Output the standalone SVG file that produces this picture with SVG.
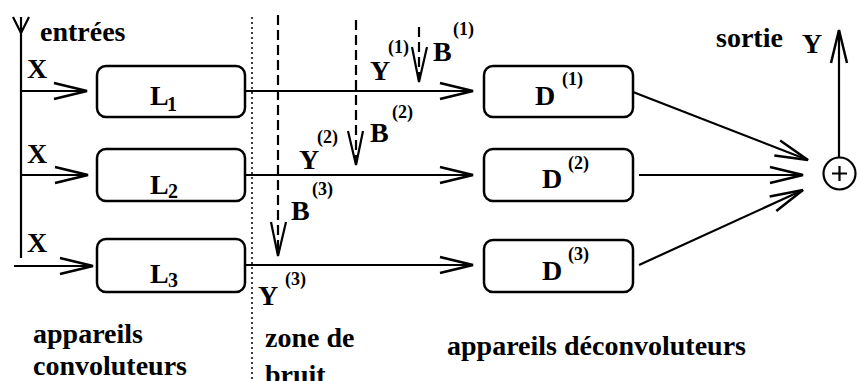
<svg xmlns="http://www.w3.org/2000/svg" width="857" height="381" viewBox="0 0 857 381" font-family="Liberation Serif, Times New Roman, serif">
<style>
text{font-weight:bold;fill:#000}
.t{font-size:28px}
.s{font-size:18px}
.sub{font-size:20px}
.box{fill:#fff;stroke:#000;stroke-width:2.5}
.ln{fill:none;stroke:#000;stroke-width:2.2}
.dash{fill:none;stroke:#000;stroke-width:2.2;stroke-dasharray:10 5}
.dot{fill:none;stroke:#000;stroke-width:1.5;stroke-dasharray:2 3}
</style>
<defs>
<marker id="ah" markerUnits="userSpaceOnUse" viewBox="-36 -10 40 20" markerWidth="40" markerHeight="20" refX="0" refY="0" orient="auto">
<path d="M-33,-8 L0,0 L-33,8" fill="none" stroke="#000" stroke-width="2.5"/>
</marker>
</defs>
<g id="connectors">
<path class="ln" d="M21,17 V258"/>
<path class="ln" d="M13,17 L21,33 L29,17"/>
<path class="ln" d="M21,91 H87" marker-end="url(#ah)"/>
<path class="ln" d="M21,175 H88" marker-end="url(#ah)"/>
<path class="ln" d="M14,266 H93" marker-end="url(#ah)"/>
<path class="dot" d="M252,17 V381"/>
<path class="ln" d="M245,91 H473" marker-end="url(#ah)"/>
<path class="ln" d="M245,175 H473" marker-end="url(#ah)"/>
<path class="ln" d="M245,265 H473" marker-end="url(#ah)"/>
<path class="dash" d="M278,15 V254"/>
<path class="ln" d="M271,222 L278,256 L286,222"/>
<path class="dash" d="M356,20 V163"/>
<path class="ln" d="M348,131 L356,165 L363,131"/>
<path class="dash" d="M419,27 V80"/>
<path class="ln" d="M412,47 L419,82 L427,47"/>
<path class="ln" d="M633,92 L808,160" marker-end="url(#ah)"/>
<path class="ln" d="M639,175 L803,175" marker-end="url(#ah)"/>
<path class="ln" d="M639,265 L803,190" marker-end="url(#ah)"/>
<path class="ln" d="M839,157 V30" marker-end="url(#ah)"/>
</g>
<g id="L1"><rect class="box" x="97" y="66" width="148" height="51" rx="9"/><text class="t" x="150" y="105">L</text><text class="sub" x="167" y="111">1</text></g>
<g id="L2"><rect class="box" x="97" y="149" width="148" height="52" rx="9"/><text class="t" x="150" y="194">L</text><text class="sub" x="168" y="198">2</text></g>
<g id="L3"><rect class="box" x="97" y="239" width="148" height="53" rx="9"/><text class="t" x="150" y="283">L</text><text class="sub" x="168" y="287">3</text></g>
<g id="D1"><rect class="box" x="484" y="66" width="149" height="51" rx="9"/><text class="t" x="535" y="105">D</text><text class="s" x="562" y="85">(1)</text></g>
<g id="D2"><rect class="box" x="484" y="149" width="149" height="52" rx="9"/><text class="t" x="542" y="188">D</text><text class="s" x="568" y="169">(2)</text></g>
<g id="D3"><rect class="box" x="484" y="240" width="149" height="52" rx="9"/><text class="t" x="542" y="280">D</text><text class="s" x="568" y="260">(3)</text></g>
<g id="sum"><circle cx="839.5" cy="173.5" r="16" fill="#fff" stroke="#000" stroke-width="2.2"/><path class="ln" d="M832,173.5 H847 M839.5,166 V181"/></g>
<g id="labels">
<text class="t" x="40" y="41">entrées</text>
<text class="t" x="27" y="78">X</text>
<text class="t" x="27" y="163">X</text>
<text class="t" x="27" y="252">X</text>
<text class="t" x="370" y="80">Y</text><text class="s" x="388" y="53">(1)</text>
<text class="t" x="433" y="61">B</text><text class="s" x="453" y="35">(1)</text>
<text class="t" x="370" y="142">B</text><text class="s" x="392" y="118">(2)</text>
<text class="t" x="299" y="169">Y</text><text class="s" x="317" y="143">(2)</text>
<text class="t" x="291" y="220">B</text><text class="s" x="312" y="195">(3)</text>
<text class="t" x="258" y="305">Y</text><text class="s" x="285" y="285">(3)</text>
<text class="t" x="716" y="47">sortie</text>
<text class="t" x="802" y="53">Y</text>
<text class="t" x="33" y="343">appareils</text>
<text class="t" x="33" y="375">convoluteurs</text>
<text class="t" x="265" y="347">zone de</text>
<text class="t" x="265" y="384">bruit</text>
<text class="t" x="447" y="355">appareils déconvoluteurs</text>
</g>
</svg>
